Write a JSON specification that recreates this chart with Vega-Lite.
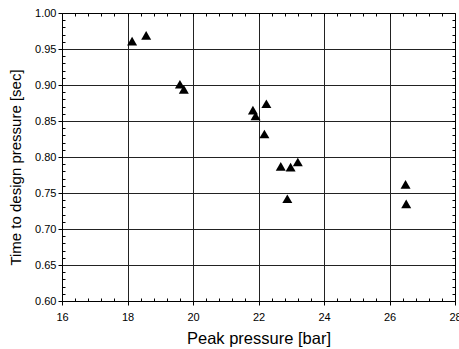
{
  "$schema": "https://vega.github.io/schema/vega-lite/v6.json",
  "width": 393,
  "height": 288,
  "autosize": {"type": "none"},
  "padding": {"left": 62, "top": 13, "right": 4, "bottom": 48},
  "background": "white",
  "config": {
    "view": {"stroke": "black", "strokeWidth": 1},
    "axis": {
      "labelFont": "Liberation Sans",
      "titleFont": "Liberation Sans",
      "labelColor": "black",
      "titleColor": "black",
      "labelFontSize": 11,
      "titleFontSize": 14,
      "titleFontWeight": "normal",
      "domainColor": "black",
      "tickColor": "black"
    }
  },
  "data": {
    "values": [
      {"p": 18.14, "t": 0.961},
      {"p": 18.57, "t": 0.969},
      {"p": 19.6, "t": 0.901},
      {"p": 19.72, "t": 0.894},
      {"p": 21.83, "t": 0.865},
      {"p": 21.91, "t": 0.857},
      {"p": 22.24, "t": 0.874},
      {"p": 22.18, "t": 0.832},
      {"p": 22.68, "t": 0.787},
      {"p": 22.98, "t": 0.786},
      {"p": 23.2, "t": 0.793},
      {"p": 22.88, "t": 0.742},
      {"p": 26.49, "t": 0.762},
      {"p": 26.51, "t": 0.735}
    ]
  },
  "resolve": {"axis": {"x": "independent", "y": "independent"}},
  "layer": [
    {
      "mark": {"type": "point", "opacity": 0},
      "encoding": {
        "x": {
          "field": "p", "type": "quantitative",
          "scale": {"domain": [16, 28], "nice": false, "zero": false},
          "axis": {
            "orient": "bottom",
            "title": null, "labels": false, "domain": false, "ticks": false,
            "grid": true, "gridColor": "#222222", "gridOpacity": 1, "gridWidth": 1,
            "values": [18, 20, 22, 24, 26]
          }
        },
        "y": {
          "field": "t", "type": "quantitative",
          "scale": {"domain": [0.6, 1.0], "nice": false, "zero": false},
          "axis": {
            "orient": "left",
            "title": null, "labels": false, "domain": false, "ticks": false,
            "grid": true, "gridColor": "#222222", "gridOpacity": 1, "gridWidth": 1,
            "values": [0.65, 0.7, 0.75, 0.8, 0.85, 0.9, 0.95]
          }
        }
      }
    },
    {
      "mark": {"type": "point", "opacity": 0},
      "encoding": {
        "x": {
          "field": "p", "type": "quantitative",
          "axis": {
            "orient": "bottom",
            "title": null, "labels": false, "grid": false, "domain": false,
            "tickSize": -3,
            "values": [16.4, 16.8, 17.2, 17.6, 18.4, 18.8, 19.2, 19.6, 20.4, 20.8, 21.2, 21.6, 22.4, 22.8, 23.2, 23.6, 24.4, 24.8, 25.2, 25.6, 26.4, 26.8, 27.2, 27.6]
          }
        },
        "y": {
          "field": "t", "type": "quantitative",
          "axis": {
            "orient": "left",
            "title": null, "labels": false, "grid": false, "domain": false,
            "tickSize": -3,
            "values": [0.61, 0.62, 0.63, 0.64, 0.66, 0.67, 0.68, 0.69, 0.71, 0.72, 0.73, 0.74, 0.76, 0.77, 0.78, 0.79, 0.81, 0.82, 0.83, 0.84, 0.86, 0.87, 0.88, 0.89, 0.91, 0.92, 0.93, 0.94, 0.96, 0.97, 0.98, 0.99]
          }
        }
      }
    },
    {
      "mark": {"type": "point", "opacity": 0},
      "encoding": {
        "x": {
          "field": "p", "type": "quantitative",
          "axis": {
            "orient": "top",
            "title": null, "labels": false, "grid": false, "domain": true,
            "tickSize": -3,
            "values": [16.4, 16.8, 17.2, 17.6, 18, 18.4, 18.8, 19.2, 19.6, 20, 20.4, 20.8, 21.2, 21.6, 22, 22.4, 22.8, 23.2, 23.6, 24, 24.4, 24.8, 25.2, 25.6, 26, 26.4, 26.8, 27.2, 27.6]
          }
        },
        "y": {
          "field": "t", "type": "quantitative",
          "axis": {
            "orient": "right",
            "title": null, "labels": false, "grid": false, "domain": true,
            "tickSize": -3,
            "values": [0.61, 0.62, 0.63, 0.64, 0.65, 0.66, 0.67, 0.68, 0.69, 0.7, 0.71, 0.72, 0.73, 0.74, 0.75, 0.76, 0.77, 0.78, 0.79, 0.8, 0.81, 0.82, 0.83, 0.84, 0.85, 0.86, 0.87, 0.88, 0.89, 0.9, 0.91, 0.92, 0.93, 0.94, 0.95, 0.96, 0.97, 0.98, 0.99]
          }
        }
      }
    },
    {
      "mark": {"type": "point", "shape": "triangle-up", "filled": true, "color": "black", "opacity": 1, "size": 100},
      "encoding": {
        "x": {
          "field": "p", "type": "quantitative",
          "axis": {
            "orient": "bottom",
            "title": "Peak pressure [bar]",
            "titleFontSize": 16.5,
            "values": [16, 18, 20, 22, 24, 26, 28],
            "grid": false,
            "tickSize": 4,
            "labelPadding": 6,
            "titlePadding": 8,
            "labelFlush": false,
            "labelOverlap": false
          }
        },
        "y": {
          "field": "t", "type": "quantitative",
          "axis": {
            "orient": "left",
            "title": "Time to design pressure [sec]",
            "titleFontSize": 15,
            "titleY": 154,
            "values": [0.6, 0.65, 0.7, 0.75, 0.8, 0.85, 0.9, 0.95, 1.0],
            "format": ".2f",
            "grid": false,
            "tickSize": 4,
            "labelPadding": 2,
            "titlePadding": 11,
            "labelFlush": false,
            "labelOverlap": false
          }
        }
      }
    }
  ]
}
